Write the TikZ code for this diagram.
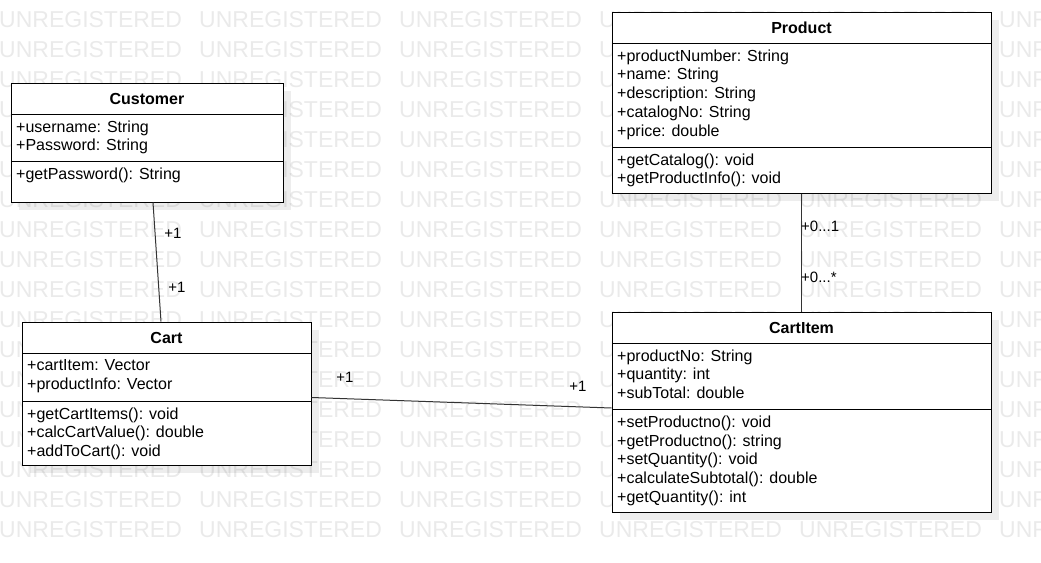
\documentclass[tikz,border=0pt]{standalone}
\usepackage{fontspec}
\setmainfont{Liberation Sans}
\usetikzlibrary{positioning,shadows}
\definecolor{wmgray}{RGB}{234,234,234}
\definecolor{linegray}{RGB}{51,51,51}
\newcommand{\wmrows}{17}
\newcommand{\wmcols}{5}

\tikzset{
    watermark/.style={anchor=west, inner sep=0pt, text=wmgray, font=\fontsize{23}{23}\selectfont},
    classbox/.style={draw, line width=1pt, fill=white, inner sep=0pt,
        drop shadow={shadow xshift=8pt, shadow yshift=-8pt, opacity=.07, fill=black}},
    classname/.style={font=\fontsize{16}{18.7}\selectfont\bfseries},
    members/.style={anchor=north west, align=left, inner xsep=5pt, inner ysep=6.5pt, font=\fontsize{16}{18.7}\selectfont},
    mult/.style={inner sep=0pt, font=\fontsize{15}{15}\selectfont},
    assoc/.style={draw=linegray, line width=1pt}
}

\begin{document}
\begin{tikzpicture}[x=1pt, y=-1pt]
    \useasboundingbox (0,0) rectangle (1041,562);

    % Watermark
    \foreach \row in {0,...,\wmrows} {
        \foreach \col in {0,...,\wmcols} {
            \node[watermark] (wm-\row-\col) at (200*\col-1, 20+30*\row) {UNREGISTERED};
        }
    }

    % Customer
    \node[classbox, minimum width=272pt, minimum height=119pt] (customer) at (147, 142.5) {};
    \node[classname] (customer-name) at (147, 98.5) {Customer};
    \node[members] (customer-attr) at (11, 114) {+username: String\\+Password: String};
    \node[members] (customer-ops) at (11, 161) {+getPassword(): String};
    \draw[line width=1pt] (11, 114) -- (283, 114) (11, 161) -- (283, 161);

    % Product
    \node[classbox, minimum width=379pt, minimum height=181pt] (product) at (801.5, 102.5) {};
    \node[classname] (product-name) at (801.5, 27.5) {Product};
    \node[members] (product-attr) at (612, 43) {+productNumber: String\\+name: String\\+description: String\\+catalogNo: String\\+price: double};
    \node[members] (product-ops) at (612, 147) {+getCatalog(): void\\+getProductInfo(): void};
    \draw[line width=1pt] (612, 43) -- (991, 43) (612, 147) -- (991, 147);

    % Cart
    \node[classbox, minimum width=289pt, minimum height=143pt] (cart) at (166.5, 393.5) {};
    \node[classname] (cart-name) at (166.5, 337.5) {Cart};
    \node[members] (cart-attr) at (22, 353) {+cartItem: Vector\\+productInfo: Vector};
    \node[members] (cart-ops) at (22, 401) {+getCartItems(): void\\+calcCartValue(): double\\+addToCart(): void};
    \draw[line width=1pt] (22, 353) -- (311, 353) (22, 401) -- (311, 401);

    % CartItem
    \node[classbox, minimum width=379pt, minimum height=200pt] (cartitem) at (801.5, 412) {};
    \node[classname] (cartitem-name) at (801.5, 327.5) {CartItem};
    \node[members] (cartitem-attr) at (612, 343) {+productNo: String\\+quantity: int\\+subTotal: double};
    \node[members] (cartitem-ops) at (612, 409) {+setProductno(): void\\+getProductno(): string\\+setQuantity(): void\\+calculateSubtotal(): double\\+getQuantity(): int};
    \draw[line width=1pt] (612, 343) -- (991, 343) (612, 409) -- (991, 409);

    % Associations
    \draw[assoc] ([xshift=6pt]customer.south) -- ([xshift=-5.5pt]cart.north);
    \draw[assoc] (product) -- (cartitem);
    \draw[assoc] ([yshift=-4pt]cart.east) -- ([yshift=4pt]cartitem.west);

    % Multiplicities
    \node[mult] (m-customer) at (173, 233) {+1};
    \node[mult] (m-cart-up) at (177, 287) {+1};
    \node[mult, anchor=west] (m-product) at (801, 226) {+0...1};
    \node[mult, anchor=west] (m-cartitem-up) at (801, 277) {+0...*};
    \node[mult] (m-cart-right) at (345, 377) {+1};
    \node[mult] (m-cartitem-left) at (578, 386) {+1};
\end{tikzpicture}
\end{document}
